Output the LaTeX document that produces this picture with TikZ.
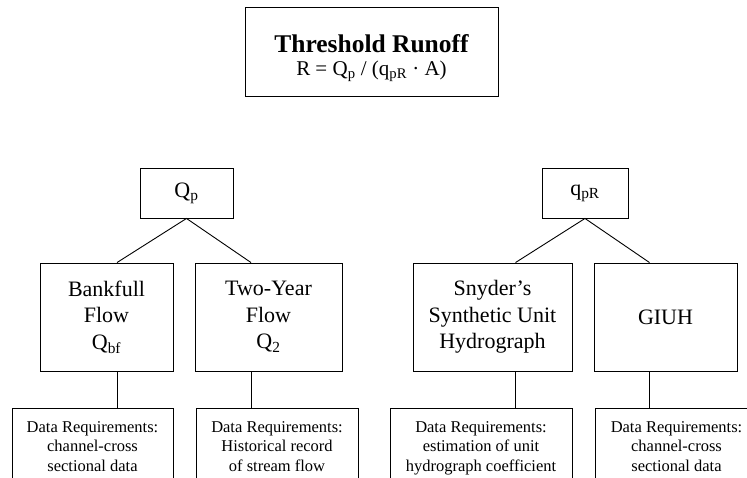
\documentclass[tikz,border=0pt]{standalone}
\usepackage{fontspec}
\setmainfont{Liberation Serif}
\usetikzlibrary{calc}
\newcommand\lsub[1]{\textsubscript{#1}}
\begin{document}
\begin{tikzpicture}[x=1pt,y=-1pt,
  boxline/.style={draw=black, line width=0.9pt},
  mainbox/.style={boxline, inner sep=0pt, align=center, font=\fontsize{22}{26.5}\selectfont},
  databox/.style={boxline, inner sep=0pt},
  datatext/.style={inner sep=0pt, anchor=north, align=center, font=\fontsize{16.5}{19.5}\selectfont},
  titletext/.style={inner sep=0pt, anchor=north, align=center, font=\fontsize{21}{23.5}\selectfont},
  conn/.style={draw=black, line width=0.9pt}]
\useasboundingbox (0,0) rectangle (747,477);
\clip (0,0) rectangle (747,477);
% title
\node[databox, minimum width=253pt, minimum height=89pt] (title) at (371.5,51.5) {};
\node[titletext] (tt) at ($(title.north)+(0,27.5)$)
  {{\bfseries\fontsize{25.5}{28}\selectfont Threshold Runoff}\\R = Q\lsub{p} / (q\lsub{pR} · A)};
% second level
\node[mainbox, minimum width=93pt, minimum height=50pt] (qp) at (186.5,193) {Q\lsub{p}};
\node[mainbox, minimum width=86pt, minimum height=50pt] (qr) at (585,193) {q\lsub{pR}};
% methods
\node[mainbox, minimum width=133pt, minimum height=108pt] (bf) at (106.5,317) {Bankfull\\Flow\\Q\lsub{bf}};
\node[mainbox, minimum width=147pt, minimum height=108pt] (ty) at (268.5,317) {Two-Year\\Flow\\Q\lsub{2}};
\node[mainbox, minimum width=159pt, minimum height=108pt] (sn) at (492.5,317) {Snyder’s\\Synthetic Unit\\Hydrograph};
\node[mainbox, minimum width=143pt, minimum height=108pt] (gi) at (665.5,317) {GIUH};
% data requirement boxes
\node[databox, minimum width=161pt, minimum height=132pt] (d1) at (92.5,474) {};
\node[databox, minimum width=162pt, minimum height=132pt] (d2) at (277,474) {};
\node[databox, minimum width=182pt, minimum height=132pt] (d3) at (481,474) {};
\node[databox, minimum width=163pt, minimum height=132pt] (d4) at (676.5,474) {};
\node[datatext] (t1) at ($(d1.north)+(0,13.5)$) {Data Requirements:\\channel-cross\\sectional data};
\node[datatext] (t2) at ($(d2.north)+(0,13.5)$) {Data Requirements:\\Historical record\\of stream flow};
\node[datatext] (t3) at ($(d3.north)+(0,13.5)$) {Data Requirements:\\estimation of unit\\hydrograph coefficient};
\node[datatext] (t4) at ($(d4.north)+(0,13.5)$) {Data Requirements:\\channel-cross\\sectional data};
% connector columns
\coordinate (c1) at (117,0);
\coordinate (c2) at (251,0);
\coordinate (c3) at (515.5,0);
\coordinate (c4) at (649.5,0);
% connectors
\draw[conn] (bf.north -| c1) -- (qp.south) -- (ty.north -| c2);
\draw[conn] (sn.north -| c3) -- (qr.south) -- (gi.north -| c4);
\draw[conn] (bf.south -| c1) -- (d1.north -| c1);
\draw[conn] (ty.south -| c2) -- (d2.north -| c2);
\draw[conn] (sn.south -| c3) -- (d3.north -| c3);
\draw[conn] (gi.south -| c4) -- (d4.north -| c4);
\end{tikzpicture}
\end{document}
